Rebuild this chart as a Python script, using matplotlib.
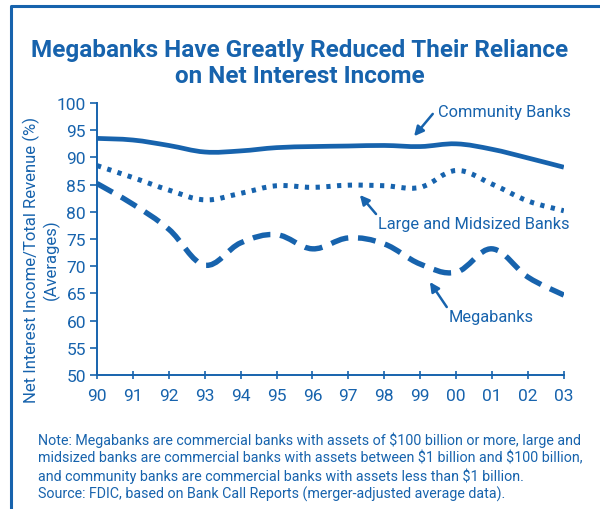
import matplotlib
matplotlib.use("Agg")
import matplotlib.pyplot as plt
from matplotlib.path import Path
from matplotlib.patches import PathPatch
from matplotlib.lines import Line2D
from matplotlib.font_manager import fontManager

BLUE = "#1763ad"

years = list(range(1990, 2004))
year_labels = ["90", "91", "92", "93", "94", "95", "96", "97", "98", "99", "00", "01", "02", "03"]

community = [93.5, 93.2, 92.2, 91.0, 91.2, 91.8, 92.0, 92.1, 92.2, 92.0, 92.5, 91.5, 89.9, 88.2]
large_mid = [88.5, 86.3, 84.0, 82.2, 83.4, 84.8, 84.5, 84.9, 84.8, 84.5, 87.6, 85.1, 82.0, 80.2]
megabanks = [85.2, 81.4, 76.8, 70.2, 74.3, 75.8, 73.2, 75.2, 74.1, 70.4, 68.9, 73.2, 68.0, 64.7]

names = {f.name for f in fontManager.ttflist}
fam = [f for f in ["Liberation Sans Narrow", "Roboto", "DejaVu Sans"] if f in names]
plt.rcParams["font.family"] = fam
plt.rcParams["text.parse_math"] = False


def smooth_path(xs, ys, t=0.18):
    # catmull-rom style cubic bezier through the points
    verts = [(xs[0], ys[0])]
    codes = [Path.MOVETO]
    n = len(xs)
    for i in range(n - 1):
        x0, y0 = (xs[i - 1], ys[i - 1]) if i > 0 else (xs[i], ys[i])
        x1, y1 = xs[i], ys[i]
        x2, y2 = xs[i + 1], ys[i + 1]
        x3, y3 = (xs[i + 2], ys[i + 2]) if i + 2 < n else (x2, y2)
        c1 = (x1 + (x2 - x0) * t, y1 + (y2 - y0) * t)
        c2 = (x2 - (x3 - x1) * t, y2 - (y3 - y1) * t)
        verts += [c1, c2, (x2, y2)]
        codes += [Path.CURVE4] * 3
    return Path(verts, codes)


fig = plt.figure(figsize=(6, 5.1), dpi=100)
ax = fig.add_axes([0.1617, 0.2627, 0.778, 0.5333])

series = [
    (community, "-", 3.4),
    (large_mid, (0, (0.85, 1.3)), 3.6),
    (megabanks, (0, (3.3, 1.8)), 3.9),
]
for vals, ls, lw in series:
    p = PathPatch(smooth_path(years, vals), fill=False, edgecolor=BLUE,
                  linewidth=lw, linestyle=ls, capstyle="butt", joinstyle="round")
    ax.add_patch(p)

ax.set_xlim(1990, 2003)
ax.set_ylim(50, 100)
ax.set_xticks(years)
ax.set_xticklabels(year_labels)
ax.set_yticks(range(50, 101, 5))
for s in ["top", "right"]:
    ax.spines[s].set_visible(False)
for s in ["left", "bottom"]:
    ax.spines[s].set_color(BLUE)
    ax.spines[s].set_linewidth(1.4)
ax.tick_params(axis="y", colors=BLUE, labelsize=12.5, length=5, width=1.2, pad=3)
ax.tick_params(axis="x", colors=BLUE, labelsize=12.5, length=6, width=1.2, direction="inout", pad=6)

ax.set_ylabel("Net Interest Income/Total Revenue (%)\n(Averages)", color=BLUE,
              fontsize=12, linespacing=1.2)
ax.yaxis.set_label_coords(-0.08, 0.426)

# labels with pointer arrows
arrow = dict(arrowstyle="-|>", color=BLUE, lw=1.8, mutation_scale=14,
             shrinkA=0, shrinkB=0)
ax.annotate("", xy=(1998.83, 93.9), xytext=(1999.35, 98.0), arrowprops=arrow)
ax.text(1999.49, 98.5, "Community Banks", color=BLUE, fontsize=11.8, va="center", ha="left")
ax.annotate("", xy=(1997.32, 83.1), xytext=(1997.77, 79.6), arrowprops=arrow)
ax.text(1997.82, 77.8, "Large and Midsized Banks", color=BLUE, fontsize=11.8, va="center", ha="left")
ax.annotate("", xy=(1999.27, 67.1), xytext=(1999.74, 62.5), arrowprops=arrow)
ax.text(1999.8, 60.8, "Megabanks", color=BLUE, fontsize=11.8, va="center", ha="left")

fig.text(0.5, 0.875, "Megabanks Have Greatly Reduced Their Reliance\non Net Interest Income",
         ha="center", va="center", color=BLUE, fontsize=17.5, fontweight="bold",
         linespacing=1.15)

note = ("Note: Megabanks are commercial banks with assets of $100 billion or more, large and\n"
        "midsized banks are commercial banks with assets between $1 billion and $100 billion,\n"
        "and community banks are commercial banks with assets less than $1 billion.\n"
        "Source: FDIC, based on Bank Call Reports (merger-adjusted average data).")
fig.text(0.063, 0.084, note, ha="left", va="center", color=BLUE, fontsize=10.3,
         linespacing=1.25)

# frame at top and left
fig.add_artist(Line2D([11 / 600, 11 / 600, 1.0], [0.0, 1 - 7 / 510, 1 - 7 / 510],
                      color=BLUE, lw=2.2, transform=fig.transFigure))

fig.savefig("out.png", dpi=100)
